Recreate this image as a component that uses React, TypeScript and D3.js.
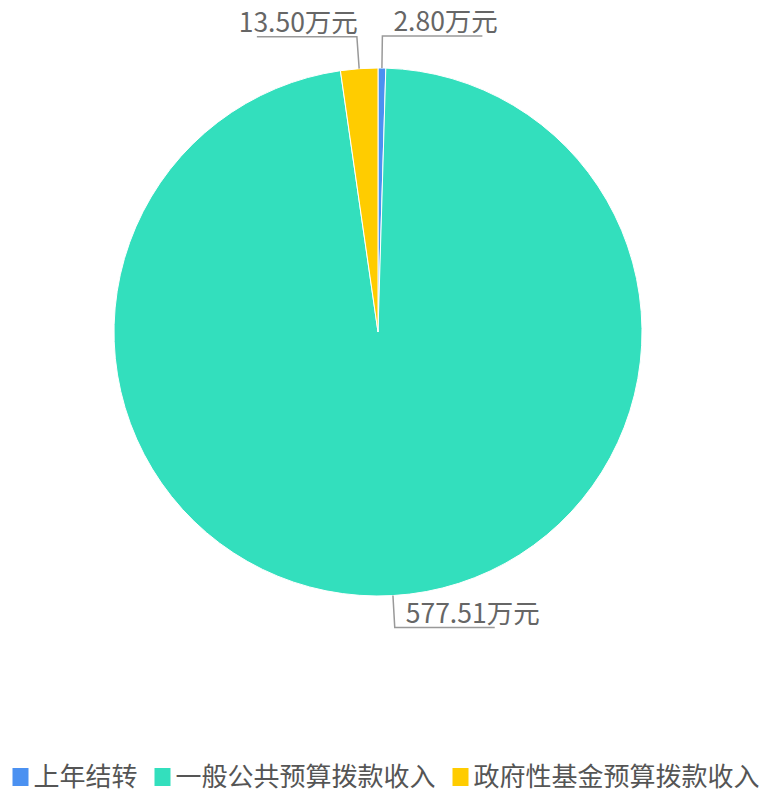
import React from "react";
import * as d3 from "d3";

const categories = ["上年结转", "一般公共预算拨款收入", "政府性基金预算拨款收入"];
const values = [2.8, 577.51, 13.5];
const colors = ["#4b91f1", "#33dfbd", "#ffcc00"];
const unit = "万元";

const W = 764;
const H = 794;
const FONT = "'Noto Sans CJK SC', 'Microsoft YaHei', sans-serif";

function measure(text: string, size: number) {
  const c = document.createElement("canvas");
  const ctx = c.getContext("2d")!;
  ctx.font = `${size}px ${FONT}`;
  return ctx.measureText(text).width;
}

export default function App() {
  const cx = 378;
  const cy = 332;
  const r = 264;
  const len1 = 32;
  const len2 = 100;

  const pie = d3
    .pie<number>()
    .sort(null)
    .startAngle(0)
    .endAngle(2 * Math.PI)
    .value((d) => d);
  const arcs = pie(values);
  const arcGen = d3.arc<d3.PieArcDatum<number>>().innerRadius(0).outerRadius(r);

  const labelSize = 26.5;
  const legendSize = 26;
  const sqW = 16;
  const sqH = 18;
  const textGap = 5;
  const itemGap = 17;
  const widths = categories.map((c) => measure(c, legendSize));
  const total =
    widths.reduce((a, b) => a + b, 0) + categories.length * (sqW + textGap) + itemGap * (categories.length - 1);
  let lx = 386 - total / 2;
  const legendItems = categories.map((c, i) => {
    const x = lx;
    lx += sqW + textGap + widths[i] + itemGap;
    return { c, x, color: colors[i] };
  });
  const legendCy = 777;

  return (
    <svg width={W} height={H} style={{ position: "absolute", left: 0, top: 0 }} fontFamily={FONT}>
      <rect width={W} height={H} fill="#fff" />
      <g transform={`translate(${cx},${cy})`}>
        {arcs.map((a, i) => (
          <path key={i} d={arcGen(a)!} fill={colors[i]} stroke="#fff" strokeWidth={1} />
        ))}
      </g>
      {arcs.map((a, i) => {
        const mid = (a.startAngle + a.endAngle) / 2;
        const sx = cx + r * Math.sin(mid);
        const sy = cy - r * Math.cos(mid);
        const ex = cx + (r + len1) * Math.sin(mid);
        const ey = cy - (r + len1) * Math.cos(mid);
        const right = Math.sin(mid) >= 0;
        const hx = ex + (right ? len2 : -len2);
        const label = values[i].toFixed(2) + unit;
        return (
          <g key={"l" + i}>
            <polyline
              points={`${sx},${sy} ${ex},${ey} ${hx},${ey}`}
              fill="none"
              stroke="#999"
              strokeWidth={1.5}
            />
            <text
              x={right ? ex + 11 : ex + 1}
              y={ey - 5}
              textAnchor={right ? "start" : "end"}
              fontSize={labelSize}
              fill="#666"
            >
              {label}
            </text>
          </g>
        );
      })}
      {legendItems.map((it, i) => (
        <g key={"lg" + i}>
          <rect x={it.x} y={legendCy - sqH / 2} width={sqW} height={sqH} fill={it.color} />
          <text x={it.x + sqW + textGap} y={legendCy + legendSize * 0.36} fontSize={legendSize} fill="#555">
            {it.c}
          </text>
        </g>
      ))}
    </svg>
  );
}
